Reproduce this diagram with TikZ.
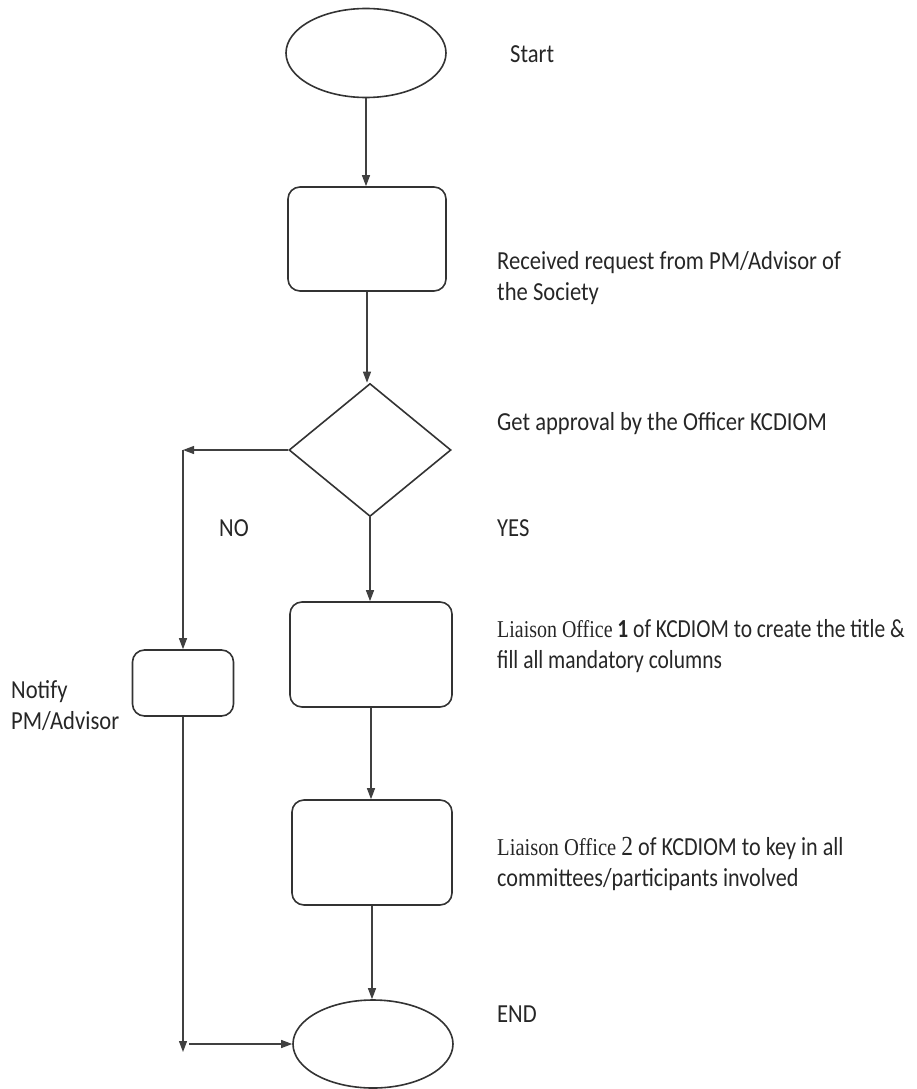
\documentclass[tikz,border=0pt]{standalone}
\usepackage{fontspec}
\setmainfont{Carlito}
\newfontfamily\serifli{Liberation Serif}
\usetikzlibrary{shapes.geometric,arrows.meta}
\newcommand{\tallbox}[2][1]{\scalebox{#1}[1.15]{\begin{tabular}{@{}l@{}}#2\end{tabular}}}
\begin{document}
\begin{tikzpicture}[x=1pt,y=-1pt,
  every node/.style={font=\fontsize{22.6}{27}\selectfont, text=black!85},
  shapeline/.style={draw=black!80, line width=1.6pt},
  termin/.style={shapeline, ellipse, minimum width=160pt, minimum height=89pt, inner sep=0pt},
  procbox/.style={shapeline, rectangle, rounded corners=12pt, inner sep=0pt},
  decision/.style={shapeline, diamond, minimum width=162pt, minimum height=133pt, inner sep=0pt},
  conn/.style={draw=black!75, line width=1.2pt},
  arr/.style={conn, -{Triangle[length=11pt,width=8pt]}},
  lbl/.style={anchor=west, align=left, inner sep=0pt}
]
\useasboundingbox (0,0) rectangle (916,1089);

% shapes
\node[termin] (start) at (366,53) {};
\node[procbox, minimum width=158pt, minimum height=104pt] (recv) at (367,239) {};
\node[decision] (dec) at (370,450) {};
\node[procbox, minimum width=162pt, minimum height=105pt] (lo1) at (371,654.5) {};
\node[procbox, minimum width=101pt, minimum height=66pt] (notify) at (183,683) {};
\node[procbox, minimum width=160pt, minimum height=105pt] (lo2) at (372,852.5) {};
\node[termin, minimum height=88pt] (end) at (373,1044) {};

% helper coordinates
\coordinate (nl) at (183,450);
\coordinate (nb) at (183,1052);
\coordinate (hs) at (189,1044);

% connectors
\draw[arr] (start.south) -- (start.south |- recv.north);
\draw[arr] (recv.south) -- (recv.south |- dec.north);
\draw[arr] (dec.west) -- (nl);
\draw[arr] (nl) -- (notify.north);
\draw[arr] (dec.south) -- (dec.south |- lo1.north);
\draw[arr] (lo1.south) -- (lo1.south |- lo2.north);
\draw[arr] (lo2.south) -- (lo2.south |- end.north);
\draw[arr] (notify.south) -- (nb);
\draw[arr] (hs) -- (end.west);

% labels
\node[lbl] (tstart) at (510,56) {\tallbox{Start}};
\node[lbl] (trecv) at (497,279) {\tallbox{Received request from PM/Advisor of\\the Society}};
\node[lbl] (tdec) at (497,424) {\tallbox{Get approval by the Officer KCDIOM}};
\node[lbl] (tno) at (219,530) {\tallbox{NO}};
\node[lbl] (tyes) at (497,530) {\tallbox{YES}};
\node[lbl] (tlo1) at (497,647) {\tallbox[0.95]{{\serifli\fontsize{21}{27}\selectfont Liaison Office} \textbf{1} of KCDIOM to create the title \&\\fill all mandatory columns}};
\node[lbl] (tnotify) at (11,708) {\tallbox{Notify\\PM/Advisor}};
\node[lbl] (tlo2) at (497,865) {\tallbox[0.98]{{\serifli\fontsize{21}{27}\selectfont Liaison Office \fontsize{24}{27}\selectfont 2} of KCDIOM to key in all\\committees/participants involved}};
\node[lbl] (tend) at (497,1016) {\tallbox{END}};
\end{tikzpicture}
\end{document}
